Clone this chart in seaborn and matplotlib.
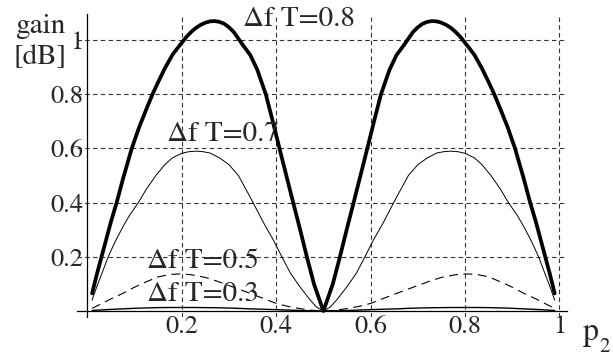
import numpy as np
import pandas as pd
import seaborn as sns
import matplotlib.pyplot as plt

sns.set_style('white')
plt.rcParams['font.family'] = ['STIXGeneral', 'DejaVu Serif']
plt.rcParams['mathtext.fontset'] = 'stix'

# gain [dB] vs p2
p_08 = [0.01, 0.02, 0.03, 0.04, 0.05, 0.062, 0.075, 0.094, 0.11, 0.125,
        0.138, 0.15, 0.164, 0.18, 0.19, 0.2, 0.21, 0.22, 0.23, 0.24,
        0.25, 0.26, 0.27, 0.28, 0.29, 0.3, 0.31, 0.32, 0.33, 0.345,
        0.36, 0.378, 0.392, 0.407, 0.42, 0.436, 0.45, 0.465, 0.48, 0.5,
        0.52, 0.535, 0.55, 0.564, 0.58, 0.593, 0.608, 0.622, 0.64, 0.655,
        0.67, 0.68, 0.69, 0.7, 0.71, 0.72, 0.73, 0.74, 0.75, 0.76,
        0.77, 0.78, 0.79, 0.8, 0.81, 0.82, 0.836, 0.85, 0.862, 0.875,
        0.89, 0.906, 0.925, 0.938, 0.95, 0.96, 0.97, 0.98, 0.99]
gain_08 = [0.065, 0.135, 0.2, 0.265, 0.33, 0.4, 0.485, 0.6, 0.68, 0.745,
           0.8, 0.845, 0.895, 0.945, 0.968, 0.99, 1.012, 1.03, 1.045, 1.056,
           1.064, 1.069, 1.07, 1.067, 1.06, 1.047, 1.03, 1.005, 0.98, 0.945,
           0.89, 0.8, 0.705, 0.6, 0.51, 0.4, 0.305, 0.2, 0.1, 0.0,
           0.1, 0.2, 0.305, 0.4, 0.51, 0.6, 0.705, 0.8, 0.89, 0.945,
           0.98, 1.005, 1.03, 1.047, 1.06, 1.067, 1.07, 1.069, 1.064, 1.056,
           1.045, 1.03, 1.012, 0.99, 0.968, 0.945, 0.895, 0.845, 0.8, 0.745,
           0.68, 0.6, 0.485, 0.4, 0.33, 0.265, 0.2, 0.135, 0.065]

p_07 = [0.01, 0.02, 0.03, 0.044, 0.06, 0.075, 0.09, 0.108, 0.125, 0.145,
        0.164, 0.18, 0.2, 0.215, 0.231, 0.245, 0.26, 0.28, 0.3, 0.32,
        0.345, 0.36, 0.375, 0.394, 0.412, 0.43, 0.45, 0.47, 0.485, 0.5,
        0.515, 0.53, 0.55, 0.57, 0.588, 0.606, 0.625, 0.64, 0.655, 0.68,
        0.7, 0.72, 0.74, 0.755, 0.769, 0.785, 0.8, 0.82, 0.836, 0.855,
        0.875, 0.892, 0.91, 0.925, 0.94, 0.956, 0.97, 0.98, 0.99]
gain_07 = [0.04, 0.09, 0.135, 0.2, 0.26, 0.31, 0.355, 0.4, 0.45, 0.5,
           0.54, 0.565, 0.582, 0.588, 0.59, 0.588, 0.583, 0.565, 0.54, 0.5,
           0.42, 0.37, 0.32, 0.262, 0.2, 0.14, 0.09, 0.045, 0.015, 0.0,
           0.015, 0.045, 0.09, 0.14, 0.2, 0.262, 0.32, 0.37, 0.42, 0.5,
           0.54, 0.565, 0.583, 0.588, 0.59, 0.588, 0.582, 0.565, 0.54, 0.5,
           0.45, 0.4, 0.355, 0.31, 0.26, 0.2, 0.135, 0.09, 0.04]

p_low = [0.01, 0.03, 0.05, 0.075, 0.1, 0.125, 0.15, 0.175, 0.196, 0.22, 0.25, 0.275,
         0.3, 0.325, 0.345, 0.375, 0.4, 0.425, 0.45, 0.475, 0.5,
         0.525, 0.55, 0.575, 0.6, 0.625, 0.655, 0.675, 0.7, 0.725, 0.75, 0.78,
         0.804, 0.825, 0.85, 0.875, 0.9, 0.925, 0.95, 0.97, 0.99]
gain_05 = [0.01, 0.027, 0.045, 0.065, 0.088, 0.108, 0.126, 0.135, 0.137, 0.134, 0.124, 0.11,
           0.094, 0.078, 0.065, 0.045, 0.028, 0.017, 0.009, 0.003, 0.0,
           0.003, 0.009, 0.017, 0.028, 0.045, 0.065, 0.078, 0.094, 0.11, 0.124, 0.134,
           0.137, 0.135, 0.126, 0.108, 0.088, 0.065, 0.045, 0.027, 0.01]
gain_03 = [0.002, 0.004, 0.006, 0.008, 0.01, 0.0115, 0.0125, 0.013, 0.013, 0.013, 0.0125, 0.012,
           0.011, 0.0095, 0.008, 0.0065, 0.005, 0.0035, 0.002, 0.001, 0.0,
           0.001, 0.002, 0.0035, 0.005, 0.0065, 0.008, 0.0095, 0.011, 0.012, 0.0125, 0.013,
           0.013, 0.013, 0.0125, 0.0115, 0.01, 0.008, 0.006, 0.004, 0.002]

x_ticks = [0.2, 0.4, 0.6, 0.8, 1.0]
x_tick_labels = ['0.2', '0.4', '0.6', '0.8', '1']
y_ticks = [0.2, 0.4, 0.6, 0.8, 1.0]
y_tick_labels = ['0.2', '0.4', '0.6', '0.8', '1']
curve_labels = ['\u0394f T=0.8', '\u0394f T=0.7', '\u0394f T=0.5', '\u0394f T=0.3']

fig = plt.figure(figsize=(6.13, 3.56), dpi=100)
ax = fig.add_axes([0.1256, 0.1096, 0.7993, 0.851])

grid_kw = dict(color='#333333', lw=0.8, dashes=(4, 3))
for v in x_ticks:
    ax.axvline(v, zorder=0, **grid_kw)
for v in y_ticks:
    ax.axhline(v, zorder=0, **grid_kw)

sns.lineplot(x=p_08, y=gain_08, ax=ax, color='black', lw=2.7, sort=False)
sns.lineplot(x=p_07, y=gain_07, ax=ax, color='black', lw=0.7, sort=False)
sns.lineplot(x=p_low, y=gain_05, ax=ax, color='black', lw=0.8, sort=False)
ax.lines[-1].set_dashes((8, 5))
sns.lineplot(x=p_low, y=gain_03, ax=ax, color='black', lw=1.0, sort=False)

ax.set_xlim(-0.022, 1.016)
ax.set_ylim(-0.022, 1.096)
for s in ['top', 'right']:
    ax.spines[s].set_visible(False)
ax.spines['left'].set_position(('data', 0))
ax.spines['bottom'].set_position(('data', 0))
for s in ['left', 'bottom']:
    ax.spines[s].set_linewidth(0.9)
    ax.spines[s].set_color('black')

ax.set_xticks(x_ticks)
ax.set_xticklabels(x_tick_labels)
ax.set_yticks(y_ticks)
ax.set_yticklabels(y_tick_labels)
ax.set_xticks([0.05, 0.1, 0.15, 0.25, 0.3, 0.35, 0.45, 0.5, 0.55, 0.65, 0.7, 0.75, 0.85, 0.9, 0.95], minor=True)
ax.set_yticks([0.05, 0.1, 0.15, 0.25, 0.3, 0.35, 0.45, 0.5, 0.55, 0.65, 0.7, 0.75, 0.85, 0.9, 0.95, 1.05], minor=True)
ax.tick_params(which='major', direction='in', length=4, width=0.8, labelsize=19, color='black')
ax.tick_params(which='minor', direction='in', length=2.2, width=0.6, color='black')
ax.tick_params(axis='x', pad=3)
ax.tick_params(axis='y', pad=3)
ax.set_xlabel('')
ax.set_ylabel('')

lab_kw = dict(fontsize=21, va='center', ha='left')
ax.text(0.33, 1.077, curve_labels[0], **lab_kw)
ax.text(0.168, 0.652, curve_labels[1], **lab_kw)
ax.text(0.126, 0.182, curve_labels[2], **lab_kw)
ax.text(0.126, 0.062, curve_labels[3], **lab_kw)

fig.text(15 / 613, 1 - 33 / 356, 'gain', fontsize=21, ha='left', va='baseline')
fig.text(13 / 613, 1 - 64 / 356, '[dB]', fontsize=21, ha='left', va='baseline')
fig.text(583 / 613, 1 - 340 / 356, 'p', fontsize=23, ha='left', va='baseline')
fig.text(599 / 613, 1 - 352 / 356, '2', fontsize=15, ha='left', va='baseline')

fig.savefig('out.png', dpi=100)
